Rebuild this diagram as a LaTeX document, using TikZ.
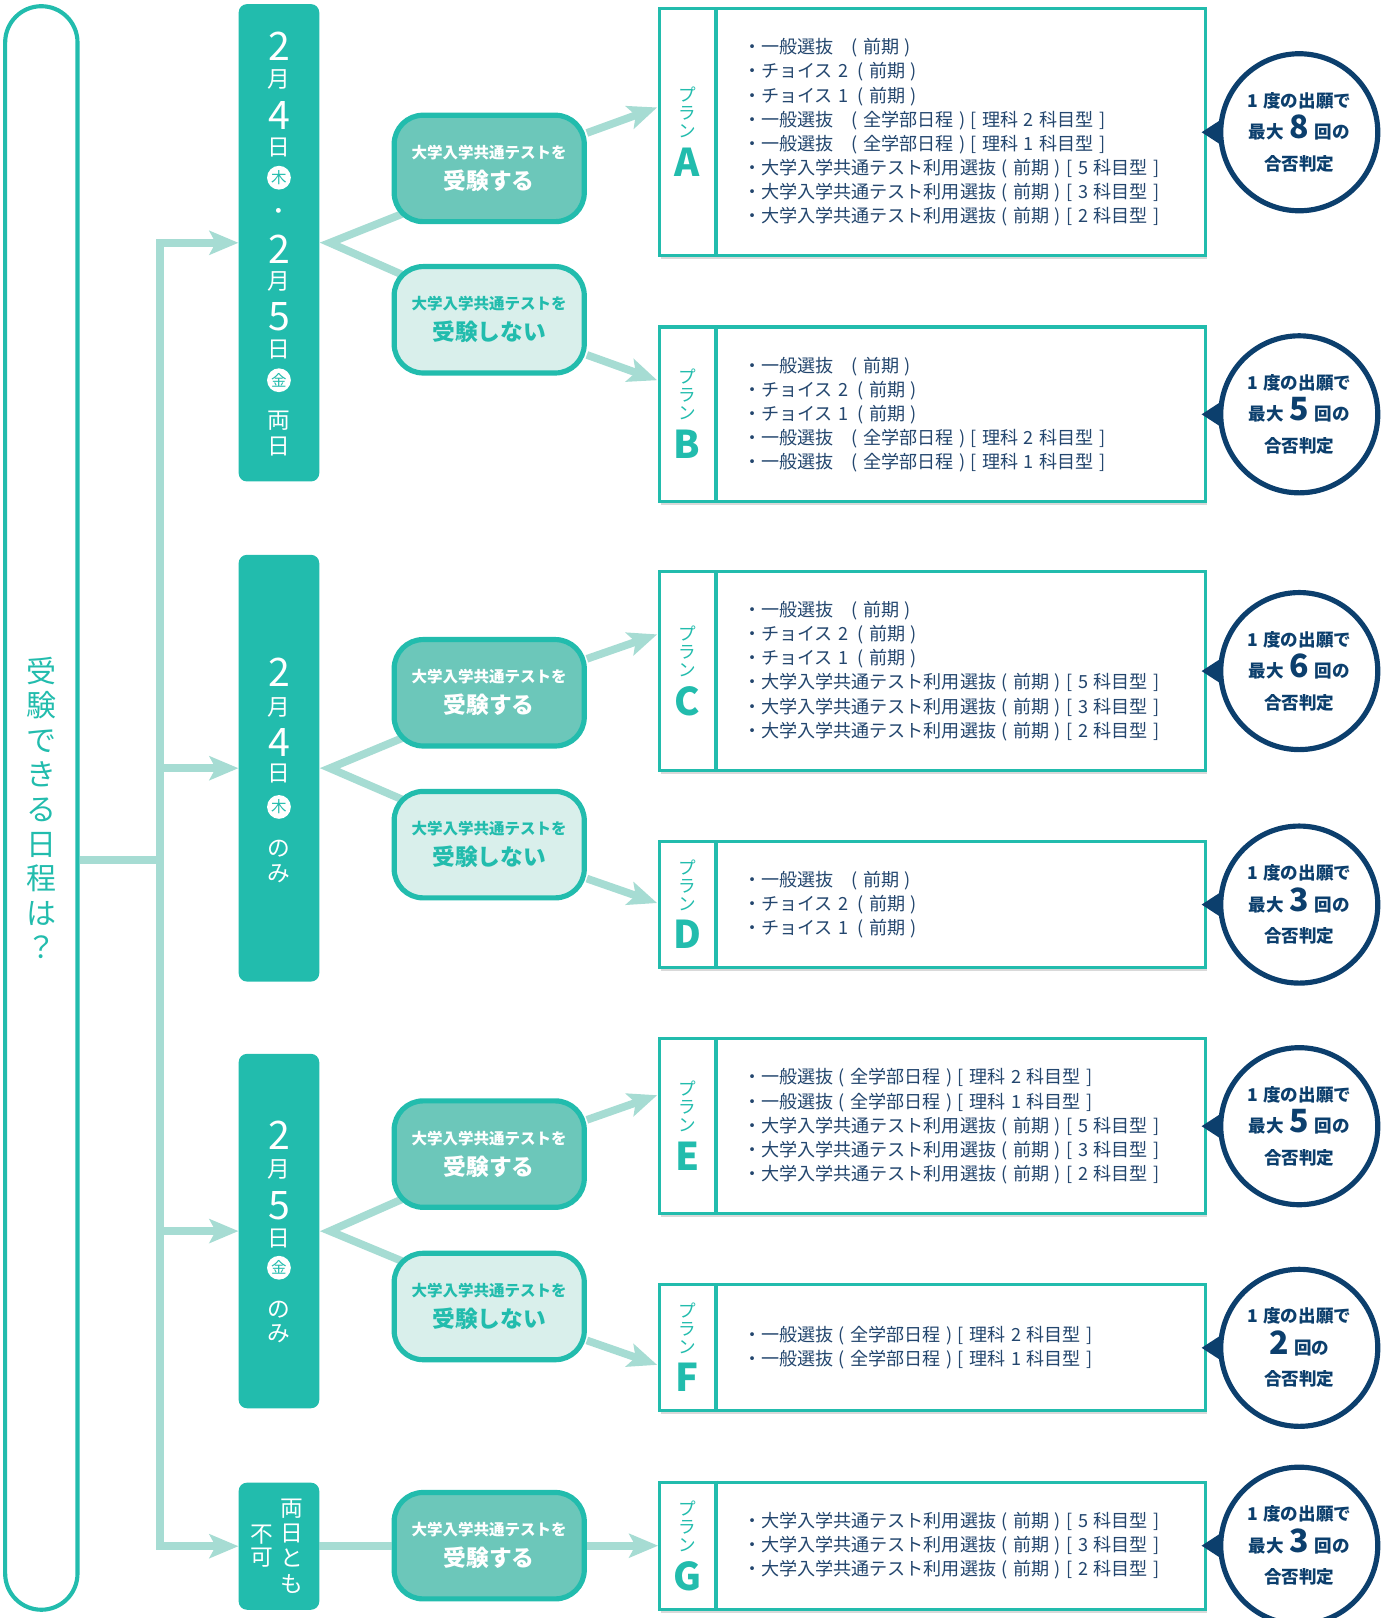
\documentclass[tikz,border=0pt]{standalone}
\usepackage{fontspec}
\setmainfont{Noto Sans CJK JP}
\newfontfamily\listfont[WordSpace = 1.6]{Noto Sans CJK JP}
\newfontfamily\tallyfont[WordSpace = 1.35]{Noto Sans CJK JP}
\usetikzlibrary{positioning}
\usetikzlibrary{arrows.meta}
\usetikzlibrary{shadows}
\usetikzlibrary{backgrounds}

\definecolor{teal1}{HTML}{22BCAD}
\definecolor{teal2}{HTML}{6CC7BA}
\definecolor{teal3}{HTML}{D9EFEB}
\definecolor{mint}{HTML}{A6DCD3}
\definecolor{navy}{HTML}{0C3F6D}
\definecolor{ink}{HTML}{23466E}

\newcommand{\fsz}[2]{\fontsize{#1}{#2}\selectfont}

\begin{document}
\begin{tikzpicture}[x = 1pt, y = -1pt,
		capsule/.style = {draw = teal1, line width = 4pt, rounded corners = 35pt, minimum width = 70pt, minimum height = 1552pt, align = center, text = teal1, font = \fsz{29}{33.5}},
		datebox/.style = {fill = teal1, rounded corners = 8pt, minimum width = 78pt, inner sep = 0pt},
		datech/.style = {text = white, inner sep = 0pt, font = \fsz{22}{22}},
		datenum/.style = {text = white, inner sep = 0pt, font = \fsz{38}{38}},
		yobi/.style = {circle, fill = white, text = teal1, inner sep = 0pt, minimum size = 23pt, font = \fsz{15}{15}},
		choice/.style = {draw = teal1, line width = 5pt, rounded corners = 28pt, minimum width = 184pt, minimum height = 103pt, align = center, font = \bfseries\fsz{15}{30}},
		takes/.style = {choice, fill = teal2, text = white},
		skips/.style = {choice, fill = teal3, text = teal1},
		plan/.style = {draw = teal1, line width = 3pt, fill = white, minimum width = 528pt,
			drop shadow = {shadow xshift = 1.5pt, shadow yshift = -3.5pt, opacity = .25, fill = black!60},
			append after command = {([xshift = 56pt]\tikzlastnode.north west) edge[draw = teal1, line width = 3pt] ([xshift = 56pt]\tikzlastnode.south west)}},
		planlbl/.style = {text = teal1, align = center, inner sep = 0pt, font = \fsz{17}{17.5}},
		planletter/.style = {text = teal1, inner sep = 0pt, font = \bfseries\fsz{37}{37}},
		items/.style = {text = ink, align = left, anchor = west, inner sep = 0pt, font = \listfont\fsz{17.5}{23.3}},
		tally/.style = {circle, draw = navy, line width = 5pt, fill = white, minimum size = 152pt, inner sep = 0pt, align = center, text = navy, font = \tallyfont\bfseries\fsz{17}{30.5}},
		flow/.style = {color = mint, line width = 7.5pt},
		flowarrow/.style = {flow, -{Stealth[length = 28pt, width = 23pt, inset = 6pt]}}]
	\useasboundingbox (0,0) rectangle (1345,1566);

	\node[capsule] (when) at (40,782) {受\\験\\で\\き\\る\\日\\程\\は\\？};

	\node[datebox, minimum height = 462pt] (date1) at (270,235) {};
	\node[datebox, minimum height = 413pt] (date2) at (270,743.5) {};
	\node[datebox, minimum height = 343pt] (date3) at (270,1191.5) {};
	\node[datebox, minimum height = 123pt] (date4) at (270,1496.5) {};

	\foreach \yy/\ch in {45/2, 112/4, 241/2, 307/5, 651/2, 719/4, 1099/2, 1167/5}
		\node[datenum] (num-\yy) at (270,\yy) {\ch};
	\foreach \yy/\ch in {77/月, 143/日, 207/・, 272/月, 338/日, 407/両, 432/日, 685/月, 749/日, 821/の, 846/み, 1132/月, 1199/日, 1268/の, 1291/み}
		\node[datech] (ch-\yy) at (270,\yy) {\ch};
	\foreach \yy/\ch in {1460/両, 1484/日, 1508/と, 1533/も}
		\node[datech] (both-\yy) at (282.5,\yy) {\ch};
	\foreach \yy/\ch in {1485/不, 1508/可}
		\node[datech] (none-\yy) at (253.5,\yy) {\ch};
	\node[yobi] (thu1) at (270,172) {木};
	\node[yobi] (fri1) at (270,368) {金};
	\node[yobi] (thu2) at (270,781) {木};
	\node[yobi] (fri3) at (270,1227) {金};

	\node[takes] (take1) at (473.5,163) {大学入学共通テストを\\{\fsz{22}{30}受験する}};
	\node[skips] (skip1) at (473.5,309.5) {大学入学共通テストを\\{\fsz{22}{30}受験しない}};
	\node[takes] (take2) at (473.5,670.5) {大学入学共通テストを\\{\fsz{22}{30}受験する}};
	\node[skips] (skip2) at (473.5,817.5) {大学入学共通テストを\\{\fsz{22}{30}受験しない}};
	\node[takes] (take3) at (473.5,1117) {大学入学共通テストを\\{\fsz{22}{30}受験する}};
	\node[skips] (skip3) at (473.5,1264.5) {大学入学共通テストを\\{\fsz{22}{30}受験しない}};
	\node[takes] (take4) at (473.5,1496) {大学入学共通テストを\\{\fsz{22}{30}受験する}};

	\node[plan, minimum height = 239pt] (planA) at (902.5,128) {};
	\node[planlbl] (lblA) at ([xshift = 28pt, yshift = 19pt]planA.west) {プ\\ラ\\ン};
	\node[planletter, below = 9pt of lblA] (letA) {A};
	\node[items, right = 82pt of planA.west] (listA) {・一般選抜\quad( 前期 )\\・チョイス 2\enspace( 前期 )\\・チョイス 1\enspace( 前期 )\\・一般選抜\quad( 全学部日程 ) [ 理科 2 科目型 ]\\・一般選抜\quad( 全学部日程 ) [ 理科 1 科目型 ]\\・大学入学共通テスト利用選抜 ( 前期 ) [ 5 科目型 ]\\・大学入学共通テスト利用選抜 ( 前期 ) [ 3 科目型 ]\\・大学入学共通テスト利用選抜 ( 前期 ) [ 2 科目型 ]};
	\node[tally, right = 11pt of planA] (tallyA) {1 度の出願で\\最大 {\fsz{31}{30}8} 回の\\合否判定};
	\fill[navy] ([xshift = -16pt]tallyA.west) -- ++(20pt,13pt) -- ++(0,-26pt) -- cycle;

	\node[plan, minimum height = 169pt] (planB) at (902.5,401) {};
	\node[planlbl] (lblB) at ([xshift = 28pt, yshift = 19pt]planB.west) {プ\\ラ\\ン};
	\node[planletter, below = 9pt of lblB] (letB) {B};
	\node[items, right = 82pt of planB.west] (listB) {・一般選抜\quad( 前期 )\\・チョイス 2\enspace( 前期 )\\・チョイス 1\enspace( 前期 )\\・一般選抜\quad( 全学部日程 ) [ 理科 2 科目型 ]\\・一般選抜\quad( 全学部日程 ) [ 理科 1 科目型 ]};
	\node[tally, right = 11pt of planB] (tallyB) {1 度の出願で\\最大 {\fsz{31}{30}5} 回の\\合否判定};
	\fill[navy] ([xshift = -16pt]tallyB.west) -- ++(20pt,13pt) -- ++(0,-26pt) -- cycle;

	\node[plan, minimum height = 192pt] (planC) at (902.5,649.5) {};
	\node[planlbl] (lblC) at ([xshift = 28pt, yshift = 19pt]planC.west) {プ\\ラ\\ン};
	\node[planletter, below = 9pt of lblC] (letC) {C};
	\node[items, right = 82pt of planC.west] (listC) {・一般選抜\quad( 前期 )\\・チョイス 2\enspace( 前期 )\\・チョイス 1\enspace( 前期 )\\・大学入学共通テスト利用選抜 ( 前期 ) [ 5 科目型 ]\\・大学入学共通テスト利用選抜 ( 前期 ) [ 3 科目型 ]\\・大学入学共通テスト利用選抜 ( 前期 ) [ 2 科目型 ]};
	\node[tally, right = 11pt of planC] (tallyC) {1 度の出願で\\最大 {\fsz{31}{30}6} 回の\\合否判定};
	\fill[navy] ([xshift = -16pt]tallyC.west) -- ++(20pt,13pt) -- ++(0,-26pt) -- cycle;

	\node[plan, minimum height = 122pt] (planD) at (902.5,875.5) {};
	\node[planlbl] (lblD) at ([xshift = 28pt, yshift = 19pt]planD.west) {プ\\ラ\\ン};
	\node[planletter, below = 9pt of lblD] (letD) {D};
	\node[items, right = 82pt of planD.west] (listD) {・一般選抜\quad( 前期 )\\・チョイス 2\enspace( 前期 )\\・チョイス 1\enspace( 前期 )};
	\node[tally, right = 11pt of planD] (tallyD) {1 度の出願で\\最大 {\fsz{31}{30}3} 回の\\合否判定};
	\fill[navy] ([xshift = -16pt]tallyD.west) -- ++(20pt,13pt) -- ++(0,-26pt) -- cycle;

	\node[plan, minimum height = 169pt] (planE) at (902.5,1090) {};
	\node[planlbl] (lblE) at ([xshift = 28pt, yshift = 19pt]planE.west) {プ\\ラ\\ン};
	\node[planletter, below = 9pt of lblE] (letE) {E};
	\node[items, right = 82pt of planE.west] (listE) {・一般選抜 ( 全学部日程 ) [ 理科 2 科目型 ]\\・一般選抜 ( 全学部日程 ) [ 理科 1 科目型 ]\\・大学入学共通テスト利用選抜 ( 前期 ) [ 5 科目型 ]\\・大学入学共通テスト利用選抜 ( 前期 ) [ 3 科目型 ]\\・大学入学共通テスト利用選抜 ( 前期 ) [ 2 科目型 ]};
	\node[tally, right = 11pt of planE] (tallyE) {1 度の出願で\\最大 {\fsz{31}{30}5} 回の\\合否判定};
	\fill[navy] ([xshift = -16pt]tallyE.west) -- ++(20pt,13pt) -- ++(0,-26pt) -- cycle;

	\node[plan, minimum height = 122pt] (planF) at (902.5,1304.5) {};
	\node[planlbl] (lblF) at ([xshift = 28pt, yshift = 19pt]planF.west) {プ\\ラ\\ン};
	\node[planletter, below = 9pt of lblF] (letF) {F};
	\node[items, right = 82pt of planF.west] (listF) {・一般選抜 ( 全学部日程 ) [ 理科 2 科目型 ]\\・一般選抜 ( 全学部日程 ) [ 理科 1 科目型 ]};
	\node[tally, right = 11pt of planF] (tallyF) {1 度の出願で\\{\fsz{31}{30}2} 回の\\合否判定};
	\fill[navy] ([xshift = -16pt]tallyF.west) -- ++(20pt,13pt) -- ++(0,-26pt) -- cycle;

	\node[plan, minimum height = 123pt] (planG) at (902.5,1496) {};
	\node[planlbl] (lblG) at ([xshift = 28pt, yshift = 19pt]planG.west) {プ\\ラ\\ン};
	\node[planletter, below = 9pt of lblG] (letG) {G};
	\node[items, right = 82pt of planG.west] (listG) {・大学入学共通テスト利用選抜 ( 前期 ) [ 5 科目型 ]\\・大学入学共通テスト利用選抜 ( 前期 ) [ 3 科目型 ]\\・大学入学共通テスト利用選抜 ( 前期 ) [ 2 科目型 ]};
	\node[tally, right = 11pt of planG] (tallyG) {1 度の出願で\\最大 {\fsz{31}{30}3} 回の\\合否判定};
	\fill[navy] ([xshift = -16pt]tallyG.west) -- ++(20pt,13pt) -- ++(0,-26pt) -- cycle;

	\begin{scope}[on background layer]
		\coordinate (split) at (155,832);
		\coordinate (inA) at (636,104);
		\coordinate (inB) at (636,368);
		\coordinate (inC) at (636,614);
		\coordinate (inD) at (636,874);
		\coordinate (inE) at (636,1060);
		\coordinate (inF) at (636,1321);
		\draw[flow] (when.east |- split) -- (split);
		\draw[flow, line cap = rect] (split |- date1) -- (split |- date4);
		\path[flowarrow] (split |- date1) edge (date1) (split |- date2) edge (date2) (split |- date3) edge (date3) (split |- date4) edge (date4);
		\draw[flow, shorten < = -20pt, shorten > = -20pt] (take1.207) -- ([xshift = 10pt]date1.east) -- (skip1.153);
		\draw[flow, shorten < = -20pt, shorten > = -20pt] (take2.207) -- ([xshift = 10pt]date2.east) -- (skip2.153);
		\draw[flow, shorten < = -20pt, shorten > = -20pt] (take3.207) -- ([xshift = 10pt]date3.east) -- (skip3.153);
		\draw[flow] (date4) -- (take4);
		\path[flowarrow] (take1) edge (inA) (skip1) edge (inB) (take2) edge (inC) (skip2) edge (inD) (take3) edge (inE) (skip3) edge (inF) (take4) edge (planG);
	\end{scope}
\end{tikzpicture}
\end{document}
